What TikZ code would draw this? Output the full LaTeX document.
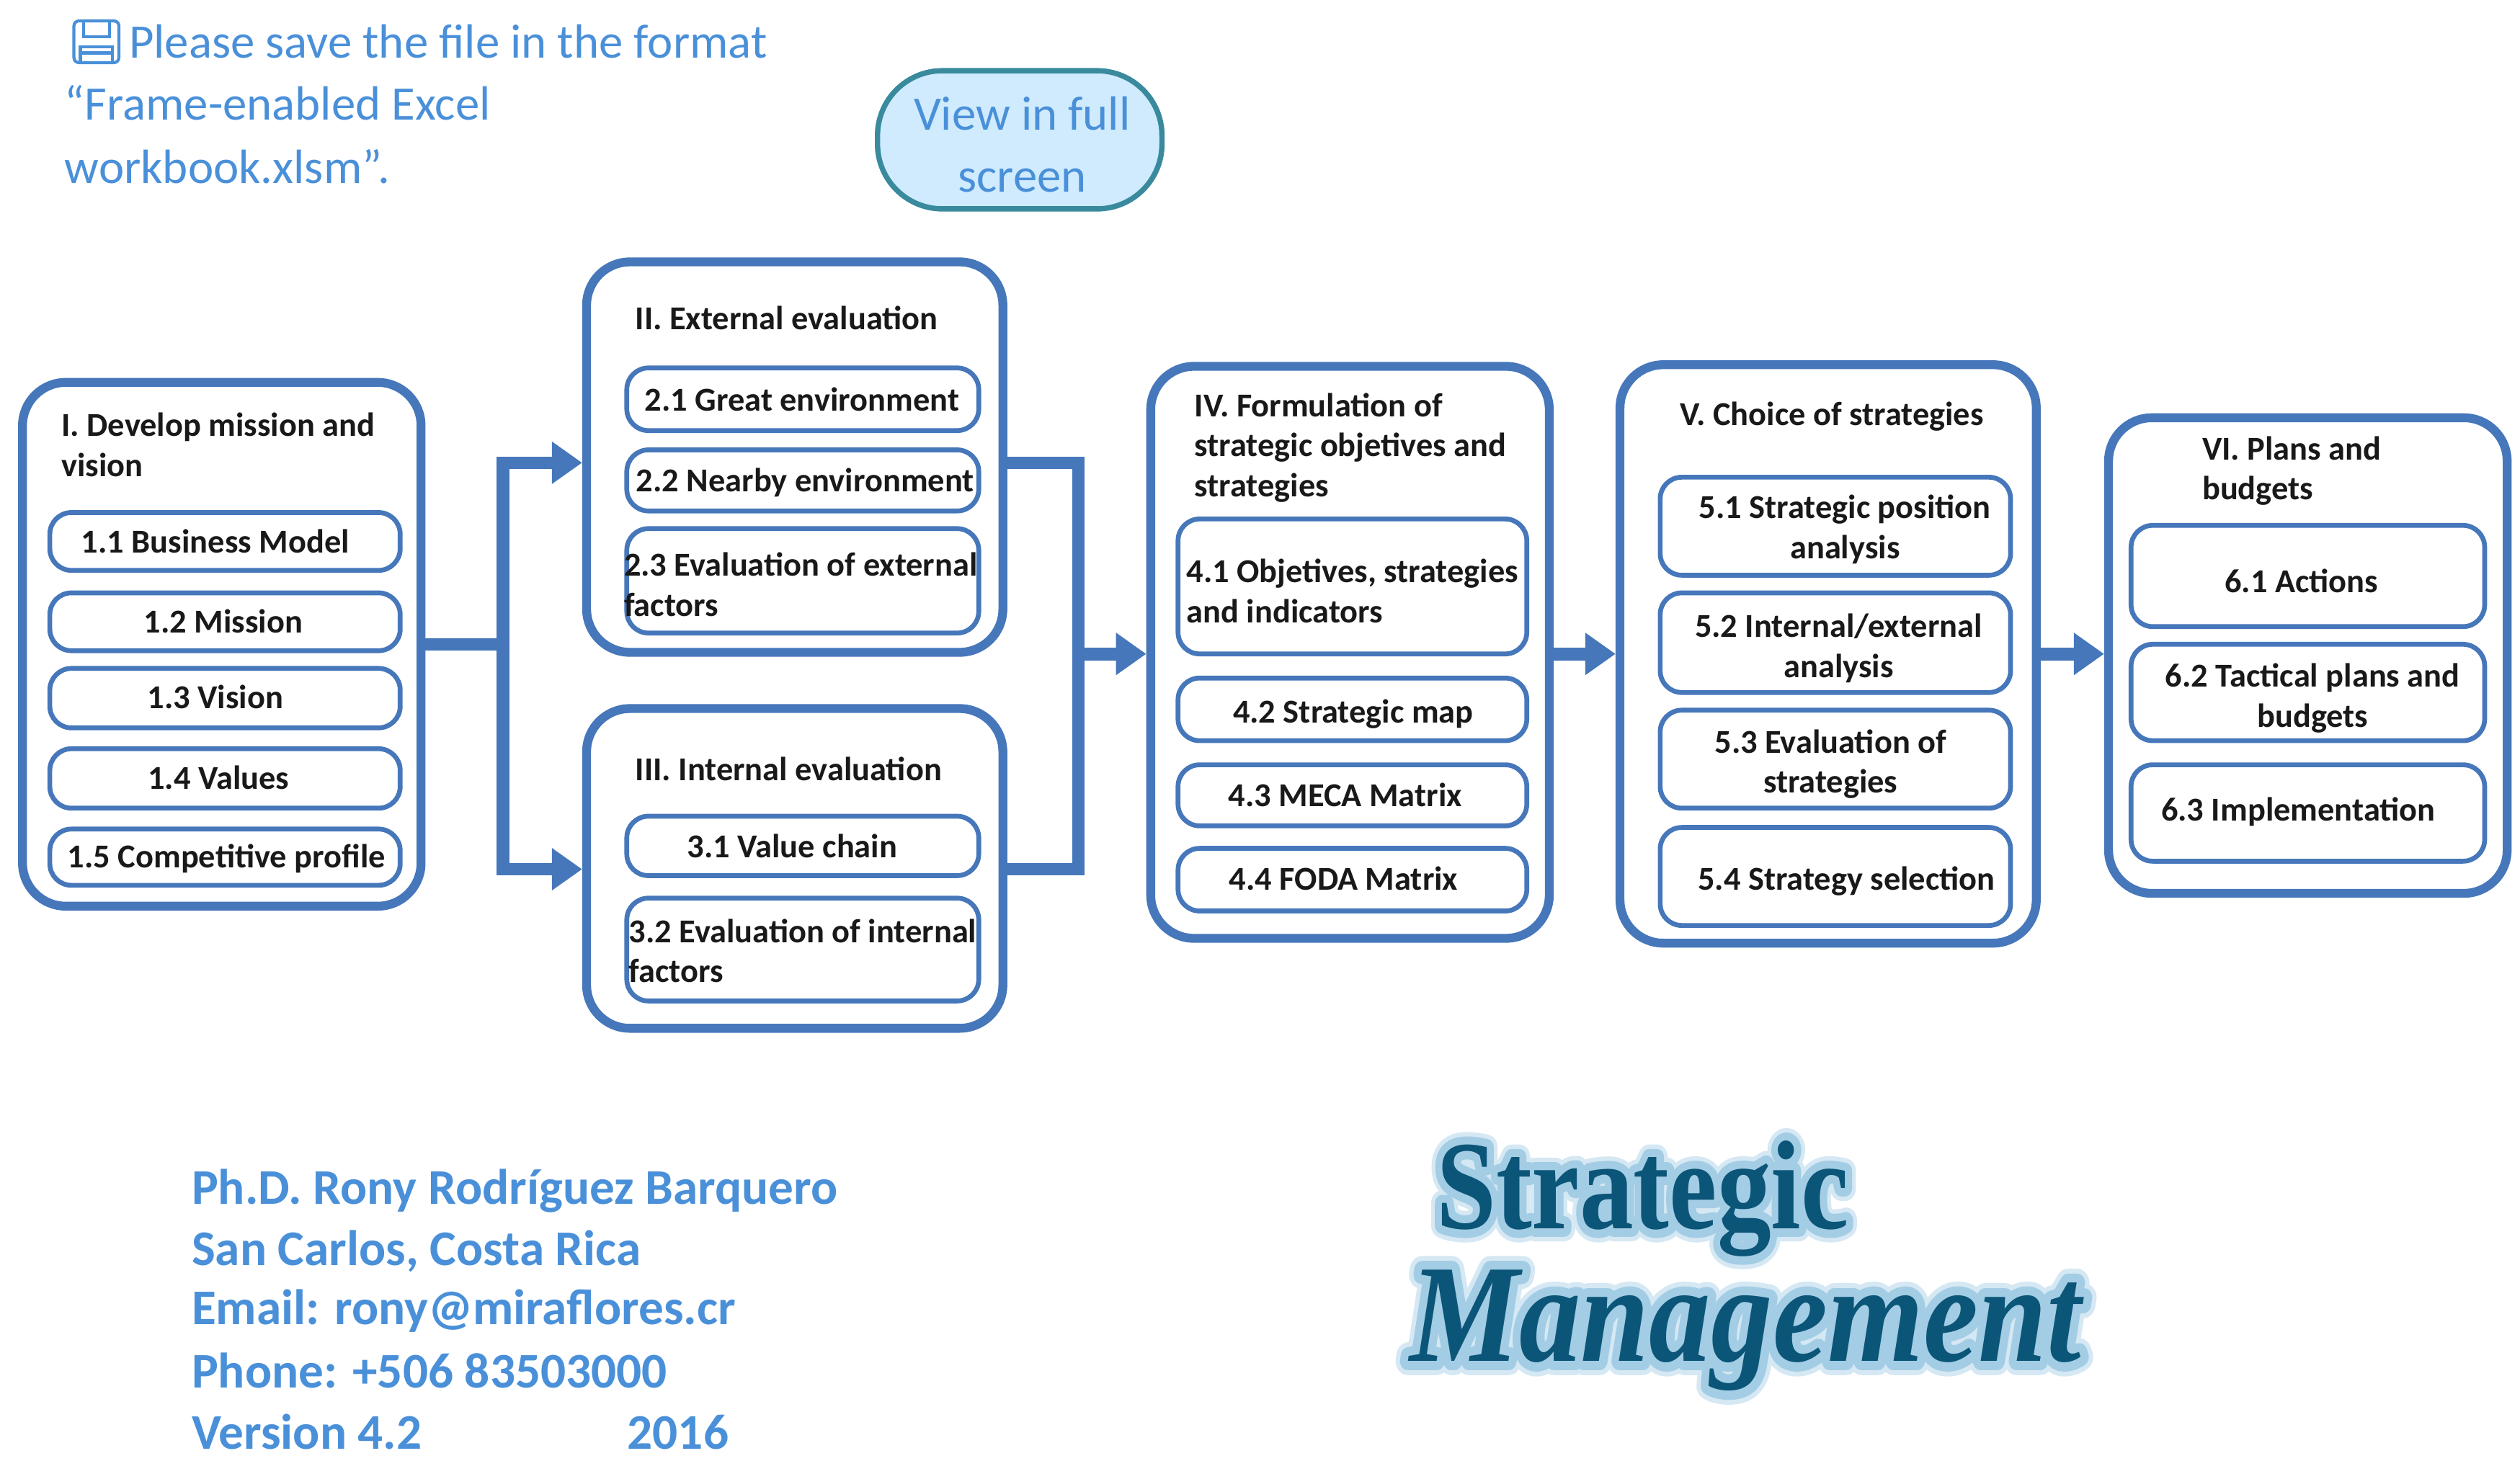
\documentclass[tikz,border=0pt]{standalone}
\usepackage{fontspec}
\usepackage{tikz}
\usetikzlibrary{arrows.meta}
\setmainfont{Carlito}
\newfontfamily\titlefont{Liberation Serif}
\newfontfamily\glowfont{Liberation Serif}[FakeBold=13]
\newfontfamily\softfont{Liberation Serif}[FakeBold=20]
\definecolor{boxblue}{HTML}{4677BA}
\definecolor{linkblue}{HTML}{4A90D9}
\definecolor{btnteal}{HTML}{3A8A9E}
\definecolor{btnfill}{HTML}{CFEBFD}
\definecolor{titleblue}{HTML}{0B5578}
\definecolor{glowblue}{HTML}{A3CDE4}
\definecolor{softblue}{HTML}{D5E8F3}
\def\pw{.0223cm}
\tikzset{
  mainbox/.style={draw=boxblue,line width=3.5pt,rounded corners=.6cm,inner sep=0pt},
  subbox/.style={draw=boxblue,line width=1.9pt,rounded corners=.3cm,inner sep=0pt},
  subtext/.style={font=\fontsize{13.2}{15.8}\selectfont\bfseries,text=black!90,inner sep=0pt,align=center,
    execute at begin node=\strut,execute at end node=\strut},
  headtext/.style={subtext,anchor=west,align=left},
  linktext/.style={font=\fontsize{19}{25}\selectfont,text=linkblue,inner sep=0pt,anchor=west,align=left},
  authortext/.style={font=\fontsize{19.7}{24}\selectfont\bfseries,text=linkblue,inner sep=0pt,anchor=west,align=left},
  flow/.style={draw=boxblue,line width=5pt,-{Triangle[length=.42cm,width=.56cm]}},
  flowplain/.style={draw=boxblue,line width=5pt}
}
\begin{document}
\begin{tikzpicture}[x=.0223cm,y=-.0223cm]
  \useasboundingbox (0,0) rectangle (1568,909);
  % main boxes
  \foreach \nm/\xa/\ya/\xb/\yb in {b1/14/238/262/564,b2/365/163/624/406,b3/365/441/624/640,
      b4/716/228/964/584,b5/1008/227/1267/587,b6/1312/260/1560/556}
    \node[mainbox,minimum width=(\xb-\xa)*\pw,minimum height=(\yb-\ya)*\pw] (\nm) at ({(\xa+\xb)/2},{(\ya+\yb)/2}) {};
  % boxes inside
  \foreach \nm/\xa/\ya/\xb/\yb in {s11/31/319/249/355,s12/31/369/249/405,s13/31/416/249/453,s14/31/466/249/503,s15/31/516/249/551,
      s21/390/229/609/268,s22/390/280/609/318,s23/390/329/609/394,s31/390/508/609/545,s32/390/559/609/623,
      s41/733/323/950/407,s42/733/422/950/461,s43/733/476/950/514,s44/733/528/950/567,
      s51/1033/297/1251/358,s52/1033/369/1251/431,s53/1033/442/1251/503,s54/1033/515/1251/576,
      s61/1326/327/1546/390,s62/1326/401/1546/461,s63/1326/476/1546/536}
    \node[subbox,minimum width=(\xb-\xa)*\pw,minimum height=(\yb-\ya)*\pw] (\nm) at ({(\xa+\xb)/2},{(\ya+\yb)/2}) {};
  % headings and left set labels
  \foreach \nm/\x/\y/\txt in {h1/38/280.5/{I. Develop mission and\\vision},h2/395/200/{II. External evaluation},
      h3/395/481/{III. Internal evaluation},h4/743/280.5/{IV. Formulation of\\strategic objetives and\\strategies},
      h5/1045/260/{V. Choice of strategies},h6/1370/295/{VI. Plans and\\budgets},
      t23/388/367.5/{2.3 Evaluation of external\\factors},t32/391/595.5/{3.2 Evaluation of internal\\factors},
      t41/738/371.5/{4.1 Objetives, strategies\\and indicators}}
    \node[headtext] (\nm) at (\x,\y) {\txt};
  % centred labels
  \foreach \nm/\x/\y/\txt in {t11/134/339/{1.1 Business Model},t12/139/389/{1.2 Mission},t13/134/436/{1.3 Vision},
      t14/136/486/{1.4 Values},t15/141/535/{1.5 Competitive profile},t21/499/251/{2.1 Great environment},
      t22/501/301/{2.2 Nearby environment},t31/493/529/{3.1 Value chain},t42/842/445/{4.2 Strategic map},
      t43/837/497/{4.3 MECA Matrix},t44/836/549/{4.4 FODA Matrix},t51/1148/331.5/{5.1 Strategic position\\analysis},
      t52/1144/405.5/{5.2 Internal/external\\analysis},t53/1139/477.5/{5.3 Evaluation of\\strategies},
      t54/1149/549/{5.4 Strategy selection},t61/1432/364/{6.1 Actions},t62/1439/436.5/{6.2 Tactical plans and\\budgets},
      t63/1430/506/{6.3 Implementation}}
    \node[subtext] (\nm) at (\x,\y) {\txt};
  % connectors
  \coordinate (j1) at (313,401);
  \coordinate (j2) at (313,288);
  \coordinate (j3) at (313,541);
  \coordinate (j4) at (671,288);
  \coordinate (j5) at (671,541);
  \coordinate (j6) at (671,407);
  \draw[flowplain] (b1.east |- j1) -- (j1);
  \draw[flow,line join=miter] (j1) -- (j2) -- (b2.west |- j2);
  \draw[flow,line join=miter] (j1) -- (j3) -- (b3.west |- j3);
  \draw[flowplain,line join=miter] (b2.east |- j4) -- (j4) -- (j5) -- (b3.east |- j5);
  \draw[flow] (j6) -- (b4.west |- j6);
  \draw[flow] (b4.east |- j6) -- (b5.west |- j6);
  \draw[flow] (b5.east |- j6) -- (b6.west |- j6);
  % save icon
  \draw[linkblue,line width=1.2pt,rounded corners=2pt] (46,13) rectangle (74,39);
  \draw[linkblue,line width=1.2pt] (52,13) rectangle (68,23);
  \draw[linkblue,line width=1.2pt] (50,39) -- (50,29) -- (70,29) -- (70,39);
  \draw[linkblue,line width=1.2pt] (50,33) -- (70,33);
  % top left note and button
  \node[linktext] (n1) at (80,26) {Please save the file in the format};
  \node[linktext] (n2) at (40,83.5) {“Frame-enabled Excel\\workbook.xlsm”.};
  \node[draw=btnteal,line width=2.1pt,fill=btnfill,rounded corners=.9cm,inner sep=0pt,minimum width=177*\pw,minimum height=86*\pw] (view) at (634.5,87) {};
  \node[inner sep=0pt,text=linkblue,align=center,font=\fontsize{19}{24.4}\selectfont] (viewtext) at (636,90) {View in full\\screen};
  % author
  \foreach \nm/\y/\txt in {a1/741/{Ph.D. Rony Rodríguez Barquero},a2/779/{San Carlos, Costa Rica},a3/816/{Email: rony@miraflores.cr},
      a4/853/{Phone: +506 83503000},a5/891/{Version 4.2\hspace{2.85cm}2016}}
    \node[authortext] (\nm) at (119,\y) {\txt};
  % title
  \begin{scope}[line join=round]
  \node[inner sep=0pt,text=softblue,xscale=.85,transform shape,font=\softfont\bfseries\fontsize{50}{50}\selectfont] (s1) at (1022,746) {Strategic};
  \node[inner sep=0pt,text=softblue,xscale=.885,transform shape,font=\softfont\bfseries\itshape\fontsize{55}{55}\selectfont] (s2) at (1086,828) {Management};
  \node[inner sep=0pt,text=glowblue,xscale=.85,transform shape,font=\glowfont\bfseries\fontsize{50}{50}\selectfont] (g1) at (1022,746) {Strategic};
  \node[inner sep=0pt,text=glowblue,xscale=.885,transform shape,font=\glowfont\bfseries\itshape\fontsize{55}{55}\selectfont] (g2) at (1086,828) {Management};
  \node[inner sep=0pt,text=titleblue,xscale=.85,transform shape,font=\titlefont\bfseries\fontsize{50}{50}\selectfont] (m1) at (1022,746) {Strategic};
  \node[inner sep=0pt,text=titleblue,xscale=.885,transform shape,font=\titlefont\bfseries\itshape\fontsize{55}{55}\selectfont] (m2) at (1086,828) {Management};
  \end{scope}
\end{tikzpicture}
\end{document}
